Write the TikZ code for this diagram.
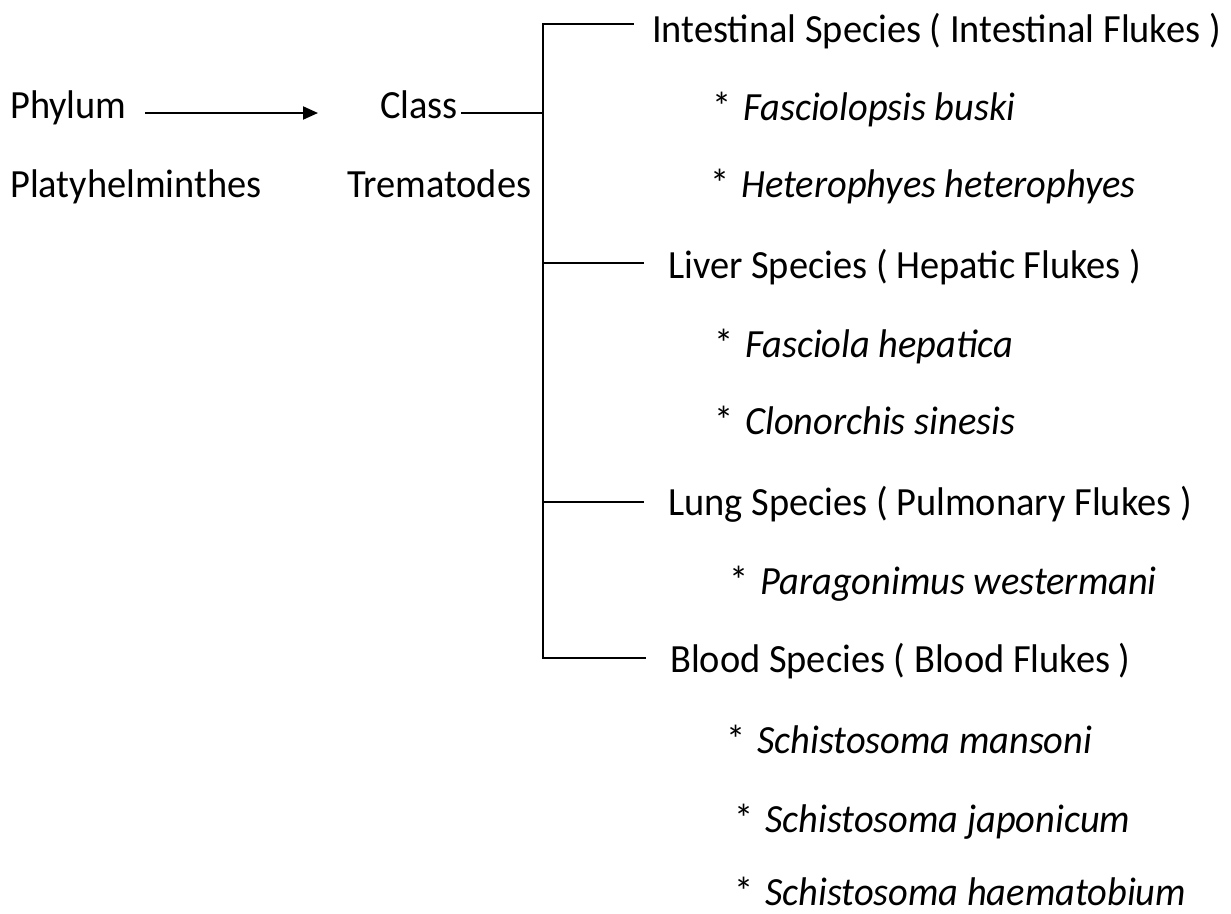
\documentclass[tikz,border=0pt]{standalone}
\usepackage{fontspec}
\setmainfont{Carlito}[FakeStretch=0.96]
\usetikzlibrary{arrows.meta}
\tikzset{
  lbl/.style={anchor=base west, inner sep=0pt, font=\fontsize{40}{42}\selectfont},
  sp/.style={lbl},
  conn/.style={line width=2pt, line cap=rect},
  arr/.style={line width=2pt, -{Triangle[length=15pt,width=13pt]}}
}
\newcommand{\spc}[1]{*\hspace{0.3em}\textit{#1}}
\begin{document}
\begin{tikzpicture}[x=1pt,y=-1pt]
\useasboundingbox (0,0) rectangle (1231,913);
% left
\node[lbl] (phylum) at (10,118) {Phylum};
\node[lbl] (platy) at (10,197) {Platyhelminthes};
\node[lbl] (class) at (380,118) {Class};
\node[lbl] (trem) at (347,197) {Trematodes};
% groups
\node[lbl] (intest) at (652,42) {Intestinal Species ( Intestinal Flukes )};
\node[sp] (fb) at (712,120) {\spc{Fasciolopsis buski}};
\node[sp] (hh) at (710,197) {\spc{Heterophyes heterophyes}};
\node[lbl] (liver) at (668,278) {Liver Species ( Hepatic Flukes )};
\node[sp] (fh) at (714,357) {\spc{Fasciola hepatica}};
\node[sp] (cs) at (714,434) {\spc{Clonorchis sinesis}};
\node[lbl] (lung) at (668,515) {Lung Species ( Pulmonary Flukes )};
\node[sp] (pw) at (729,594) {\spc{Paragonimus westermani}};
\node[lbl] (blood) at (670,672) {Blood Species ( Blood Flukes )};
\node[sp] (sm) at (726,753) {\spc{Schistosoma mansoni}};
\node[sp] (sj) at (734,832) {\spc{Schistosoma japonicum}};
\node[sp] (sh) at (734,905) {\spc{Schistosoma haematobium}};
% connectors
\coordinate (a0) at (145,113);
\coordinate (a1) at (318,113);
\draw[arr] (a0) -- (a1);
\coordinate (c0) at (462,113);
\coordinate (j) at (543,113);
\coordinate (top) at (543,24);
\coordinate (bot) at (543,658);
\coordinate (e1) at (633,24);
\coordinate (e2) at (643,263);
\coordinate (e3) at (643,502);
\coordinate (e4) at (645,658);
\coordinate (l2) at (543,263);
\coordinate (l3) at (543,502);
\draw[conn] (c0) -- (j);
\draw[conn] (e1) -- (top) -- (bot) -- (e4);
\draw[conn] (l2) -- (e2);
\draw[conn] (l3) -- (e3);
\end{tikzpicture}
\end{document}
